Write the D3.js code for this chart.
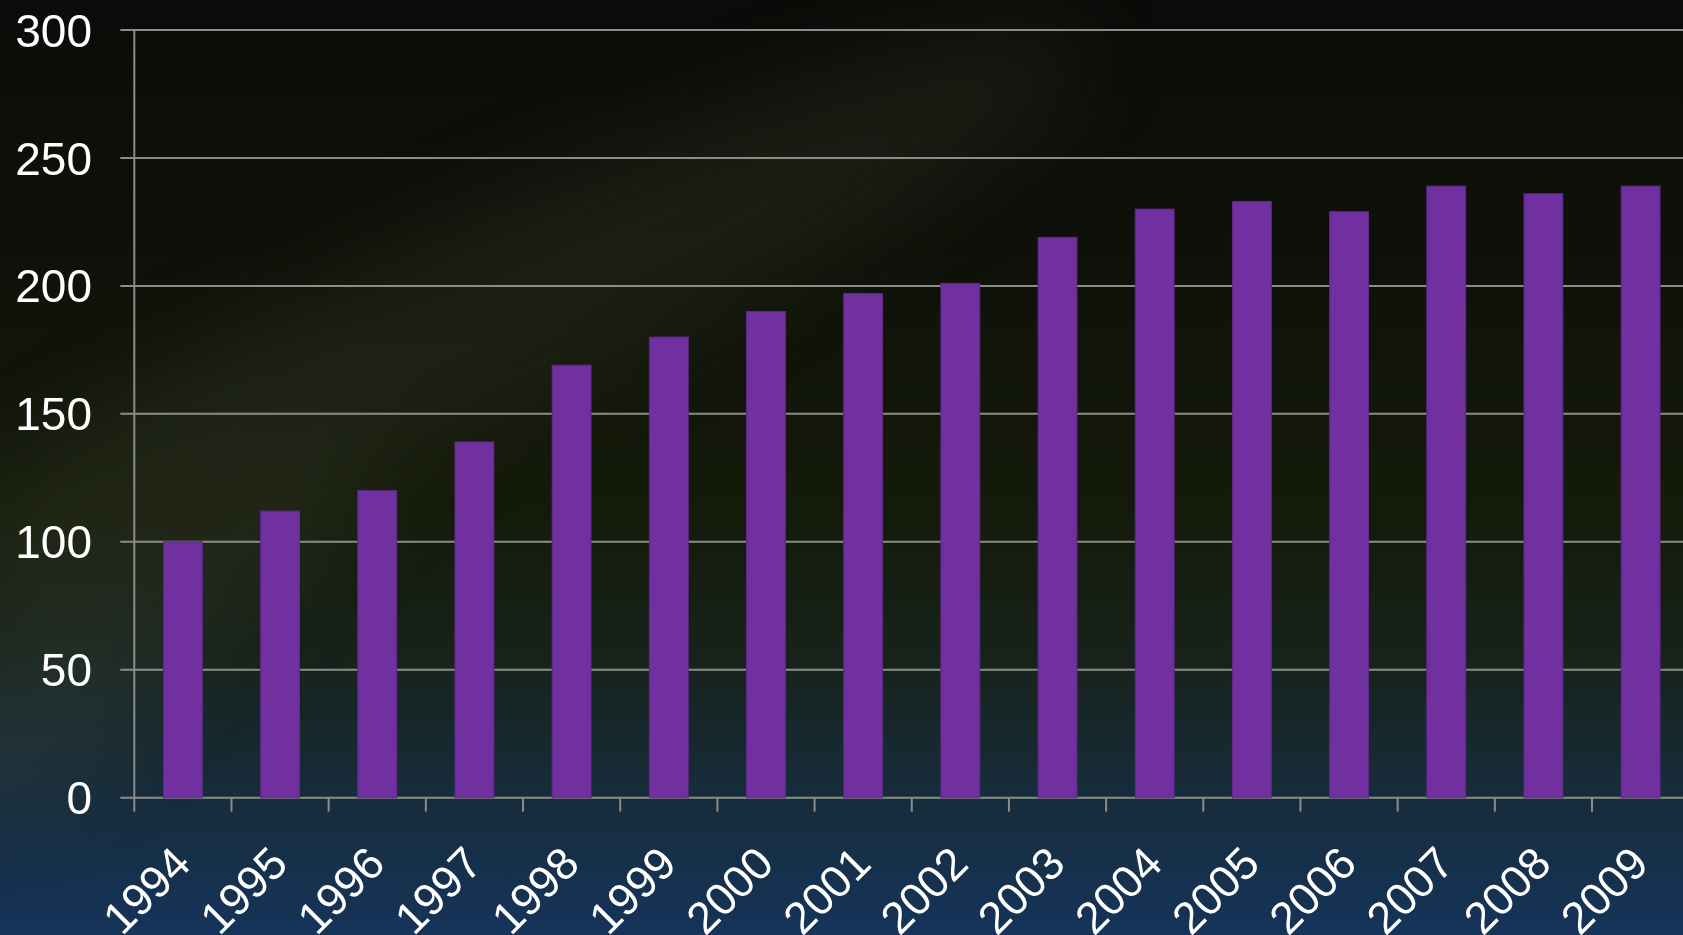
<!DOCTYPE html>
<meta charset="utf-8">
<style>
  html, body { margin: 0; padding: 0; overflow: hidden; background: #0b0c0a; }
  svg { display: block; }
  text { font-family: "Liberation Sans", Arial, sans-serif; fill: #ffffff; }
</style>
<body>
</body>

<script src="https://d3js.org/d3.v7.min.js"></script>
<script>

// data
var years = ["1994", "1995", "1996", "1997", "1998", "1999", "2000", "2001",
             "2002", "2003", "2004", "2005", "2006", "2007", "2008", "2009"];
var values = [100, 112, 120, 139, 169, 180, 190, 197,
              201, 219, 230, 233, 229, 239, 236, 239];
var yTicks = [0, 50, 100, 150, 200, 250, 300];

var W = 1683, H = 935;
var plot = {left: 134.3, right: 1689.2, top: 30, bottom: 797.7};

var svg = d3.select("body").append("svg")
  .attr("width", W)
  .attr("height", H);

// background: dark at the top, olive in the middle, blue at the bottom
var defs = svg.append("defs");
var bg = defs.append("linearGradient")
  .attr("id", "bg")
  .attr("x1", 0).attr("y1", 0).attr("x2", 0).attr("y2", 1);
[["0%", "#0b0c09"], ["30%", "#0f1209"], ["55%", "#151b0b"], ["70%", "#17221a"],
 ["82%", "#172b35"], ["100%", "#15345a"]].forEach(function(s) {
  bg.append("stop").attr("offset", s[0]).attr("stop-color", s[1]);
});
defs.append("filter").attr("id", "blur")
  .append("feGaussianBlur").attr("stdDeviation", 45);

svg.append("rect")
  .attr("width", W)
  .attr("height", H)
  .attr("fill", "url(#bg)");

// faint diagonal leafy band in the upper left
var band = svg.append("g")
  .attr("filter", "url(#blur)")
  .attr("opacity", 0.3);
band.append("ellipse")
  .attr("cx", 520).attr("cy", 300)
  .attr("rx", 620).attr("ry", 100)
  .attr("transform", "rotate(-24 520 300)")
  .attr("fill", "#3a3c2a");
band.append("ellipse")
  .attr("cx", 180).attr("cy", 520)
  .attr("rx", 240).attr("ry", 120)
  .attr("transform", "rotate(-30 180 520)")
  .attr("fill", "#3c4232");
band.append("ellipse")
  .attr("cx", 40).attr("cy", 720)
  .attr("rx", 140).attr("ry", 70)
  .attr("transform", "rotate(-30 40 720)")
  .attr("fill", "#3a4a50");

var x = d3.scaleBand()
  .domain(years)
  .range([plot.left, plot.right])
  .paddingInner(0.6)
  .paddingOuter(0.3);

var y = d3.scaleLinear()
  .domain([0, 300])
  .range([plot.bottom, plot.top]);

var step = x.step();

// gridlines + y labels
svg.append("g")
  .selectAll("line")
  .data(yTicks)
  .enter()
  .append("line")
  .attr("x1", plot.left - 14)
  .attr("x2", W)
  .attr("y1", function(d) { return y(d); })
  .attr("y2", function(d) { return y(d); })
  .attr("stroke", "#8c8c8a")
  .attr("stroke-width", 2);

svg.append("g")
  .selectAll("text")
  .data(yTicks)
  .enter()
  .append("text")
  .attr("x", 92)
  .attr("y", function(d) { return y(d); })
  .attr("dy", "0.36em")
  .attr("text-anchor", "end")
  .attr("font-size", 46)
  .text(function(d) { return d; });

// bars
svg.append("g")
  .selectAll("rect")
  .data(values)
  .enter()
  .append("rect")
  .attr("x", function(d, i) { return x(years[i]); })
  .attr("y", function(d) { return y(d); })
  .attr("width", x.bandwidth())
  .attr("height", function(d) { return y(0) - y(d); })
  .attr("fill", "#7030a0")
  .attr("stroke", "#5e2a86")
  .attr("stroke-width", 1);

// axis lines
svg.append("line")
  .attr("x1", plot.left).attr("x2", plot.left)
  .attr("y1", plot.top).attr("y2", plot.bottom + 14)
  .attr("stroke", "#8c8c8a")
  .attr("stroke-width", 2);

// x ticks sit between the categories
svg.append("g")
  .selectAll("line")
  .data(years.slice(1))
  .enter()
  .append("line")
  .attr("x1", function(d) { return x(d) - step * 0.3; })
  .attr("x2", function(d) { return x(d) - step * 0.3; })
  .attr("y1", plot.bottom)
  .attr("y2", plot.bottom + 14)
  .attr("stroke", "#8c8c8a")
  .attr("stroke-width", 2);

svg.append("g")
  .selectAll("text")
  .data(years)
  .enter()
  .append("text")
  .attr("transform", function(d) {
    return "translate(" + [x(d) + x.bandwidth() / 2 + 10, 866] + ") rotate(-45)";
  })
  .attr("text-anchor", "end")
  .attr("font-size", 45)
  .text(function(d) { return d; });

</script>
